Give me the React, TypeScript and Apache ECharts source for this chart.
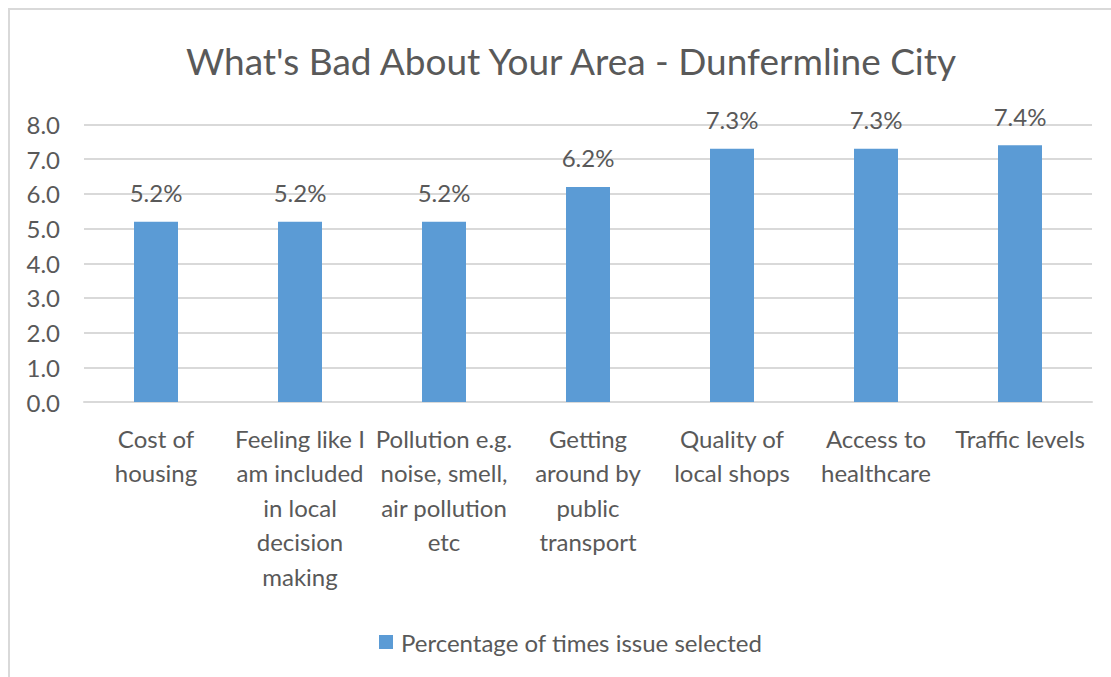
import React, { useEffect, useRef } from "react";
import * as echarts from "echarts";

const TITLE = "What's Bad About Your Area - Dunfermline City";
const SERIES_NAME = "Percentage of times issue selected";
const categories = [
  "Cost of\nhousing",
  "Feeling like I\nam included\nin local\ndecision\nmaking",
  "Pollution e.g.\nnoise, smell,\nair pollution\netc",
  "Getting\naround by\npublic\ntransport",
  "Quality of\nlocal shops",
  "Access to\nhealthcare",
  "Traffic levels",
];
const values = [5.2, 5.2, 5.2, 6.2, 7.3, 7.3, 7.4];
const yMin = 0;
const yMax = 8;
const yInterval = 1;

const FONT = "Lato";
const TEXT = "#595959";
const GRID = "#d9d9d9";
const BAR = "#5b9bd5";

export default function App() {
  const ref = useRef<HTMLDivElement>(null);
  useEffect(() => {
    if (!ref.current) return;
    const chart = echarts.init(ref.current, undefined, { renderer: "svg" });
    chart.setOption({
      animation: false,
      backgroundColor: "#ffffff",
      textStyle: { fontFamily: FONT },
      title: {
        text: TITLE,
        left: 556,
        textAlign: "center",
        top: 27,
        textStyle: {
          fontFamily: FONT,
          fontSize: 37,
          lineHeight: 37,
          fontWeight: "normal",
          color: TEXT,
        },
      },
      legend: {
        data: [SERIES_NAME],
        left: 364,
        top: 615,
        itemWidth: 14,
        itemHeight: 14,
        icon: "rect",
        textStyle: { fontFamily: FONT, fontSize: 24, color: TEXT, padding: [0, 0, 0, 3] },
      },
      grid: { left: 74, right: 19, top: 114.5, bottom: 275, containLabel: false },
      xAxis: {
        type: "category",
        data: categories,
        axisLine: { show: true, lineStyle: { color: GRID, width: 2 } },
        axisTick: { show: false },
        axisLabel: {
          interval: 0,
          margin: 19,
          fontFamily: FONT,
          fontSize: 24,
          lineHeight: 34.5,
          color: TEXT,
          align: "center",
        },
      },
      yAxis: {
        type: "value",
        min: yMin,
        max: yMax,
        interval: yInterval,
        axisLine: { show: false },
        axisTick: { show: false },
        splitLine: { lineStyle: { color: GRID, width: 2 } },
        axisLabel: {
          margin: 24,
          fontFamily: FONT,
          fontSize: 24,
          color: TEXT,
          formatter: (v: number) => v.toFixed(1),
        },
      },
      series: [
        {
          name: SERIES_NAME,
          type: "bar",
          data: values,
          barWidth: 44,
          itemStyle: { color: BAR },
          label: {
            show: true,
            position: "top",
            distance: 17,
            fontFamily: FONT,
            fontSize: 24,
            lineHeight: 24,
            color: TEXT,
            formatter: (p: any) => `${Number(p.value).toFixed(1)}%`,
          },
        },
      ],
    });
    return () => chart.dispose();
  }, []);

  return (
    <div
      style={{
        position: "fixed",
        left: 8,
        top: 8,
        width: 1103,
        height: 669,
        borderLeft: `2px solid ${GRID}`,
        borderTop: `2px solid ${GRID}`,
        boxSizing: "border-box",
        background: "#fff",
        overflow: "hidden",
      }}
    >
      <div ref={ref} style={{ width: 1101, height: 667 }} />
    </div>
  );
}
